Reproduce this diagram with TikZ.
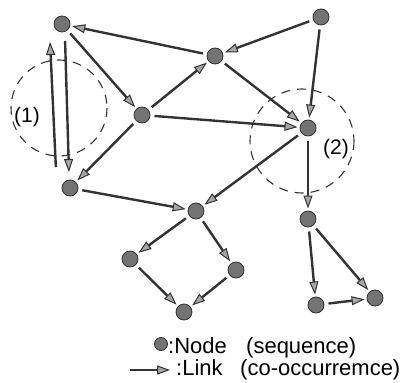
\documentclass[tikz,border=0pt]{standalone}
\usepackage{fontspec}
\setmainfont{Liberation Sans}
\usetikzlibrary{arrows.meta,calc}
\begin{document}
\begin{tikzpicture}[x=1pt,y=-1pt,
  nd/.style={circle,minimum size=16pt,inner sep=0pt,outer sep=1.5pt,fill=black!55,draw=black!80,line width=0.8pt},
  link/.style={draw=black!80,line width=2.4pt,shorten <=3pt,shorten >=1pt,
    -{Triangle[length=13pt,width=9pt,fill=black!35,line width=1pt]}},
  grp/.style={draw=black!80,dashed,dash pattern=on 9pt off 7pt,line width=1.1pt},
  lbl/.style={font=\fontsize{21}{24}\selectfont,inner sep=0pt},
  leg/.style={font=\fontsize{22}{25}\selectfont,inner sep=0pt,anchor=base west}]
\useasboundingbox (0,0) rectangle (403,382);
\node[nd] (A) at (62,24) {};
\node[nd] (B) at (321,17) {};
\node[nd] (C) at (215,56) {};
\node[nd] (D) at (142,115) {};
\node[nd] (E) at (308,128) {};
\node[nd] (F) at (70,188) {};
\node[nd] (G) at (196,211) {};
\node[nd] (H) at (130,259) {};
\node[nd] (I) at (236,270) {};
\node[nd] (J) at (184,312) {};
\node[nd] (K) at (308,219) {};
\node[nd] (L) at (316,305) {};
\node[nd] (M) at (375,298) {};
% dashed groups
\draw[grp] (59,108) circle[radius=48];
\draw[grp] (302,141) circle[radius=52];
\node[lbl] (l1) at (27,117) {(1)};
\node[lbl] (l2) at (336,149) {(2)};
% links
\draw[link] (B) -- (C);
\draw[link] (C) -- (A);
\draw[link] (A) -- (D);
\draw[link] (D) -- (C);
\draw[link] (C) -- (E);
\draw[link] (B) -- (E);
\draw[link] (D) -- (E);
\draw[link] (D) -- (F);
\coordinate (fa1) at ($(F)+(-14,-18)$);
\coordinate (fa2) at ($(A)+(-12,17)$);
\coordinate (af1) at ($(A)+(3,14)$);
\coordinate (af2) at ($(F)+(-1,-15)$);
\draw[link] (fa1) -- (fa2);
\draw[link] (af1) -- (af2);
\draw[link] (F) -- (G);
\draw[link] (E) -- (G);
\draw[link] (E) -- (K);
\draw[link] (G) -- (H);
\draw[link] (G) -- (I);
\draw[link] (H) -- (J);
\draw[link] (I) -- (J);
\draw[link] (K) -- (L);
\draw[link] (K) -- (M);
\draw[link] (L) -- (M);
% legend
\node[nd,minimum size=13pt] (ln) at (161,344) {};
\node[leg] (lt1) at (168,353) {:Node};
\node[leg] (lt2) at (246,353) {(sequence)};
\coordinate (la1) at (130,370);
\coordinate (la2) at (171,370);
\draw[link,shorten <=0pt] (la1) -- (la2);
\node[leg] (lt3) at (176,375) {:Link};
\node[leg] (lt4) at (240,375) {(co-occurremce)};
\end{tikzpicture}
\end{document}
